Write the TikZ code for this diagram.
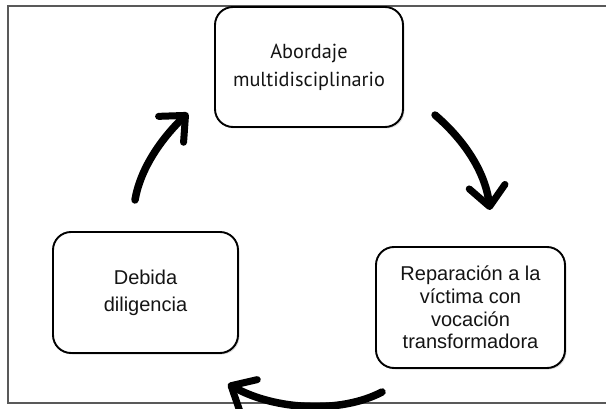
\documentclass[tikz,border=0pt]{standalone}
\usepackage{fontspec}
\setmainfont{Liberation Sans}
\newfontfamily\myriadlike{PT Sans}
\usetikzlibrary{arrows.meta,shadows}
\begin{document}
\begin{tikzpicture}[x=1pt,y=-1pt,
  box/.style={draw=black, line width=1.9pt, rounded corners=18pt, fill=white,
    align=center, inner sep=0pt, text=black!92,
    drop shadow={shadow xshift=1.5pt, shadow yshift=-1.5pt, opacity=0.3}},
  bigarrow/.style={line width=7.5pt, line cap=round,
    -{Straight Barb[length=20pt,width=36pt,line width=7pt,round]}}
]
\useasboundingbox (0,0) rectangle (606,409);
\draw[black!65, line width=1.3pt] (8,6) rectangle (640,403);

\node[box, minimum width=188pt, minimum height=120pt,
  font=\myriadlike\fontsize{20.3}{28}\selectfont] (top) at (309,67)
  {Abordaje\\multidisciplinario};
\node[box, minimum width=189pt, minimum height=121pt,
  font=\fontsize{20}{22.7}\selectfont] (right) at (470.5,307.5)
  {Reparación a la\\víctima con\\vocación\\transformadora};
\node[box, minimum width=185pt, minimum height=121pt,
  font=\fontsize{20}{27}\selectfont] (left) at (145.5,292.5)
  {Debida\\diligencia};

\coordinate (a1s) at (435,115);
\coordinate (a1e) at (490,210);
\coordinate (a2s) at (382,392);
\coordinate (a2e) at (228,384);
\coordinate (a3s) at (135,200);
\coordinate (a3e) at (188,113);

\draw[bigarrow] (a1s) .. controls (462,138) and (485,170) .. (a1e);
\draw[bigarrow] (a2s) .. controls (340,414) and (275,410) .. (a2e);
\draw[bigarrow] (a3s) .. controls (140,170) and (160,140) .. (a3e);
\end{tikzpicture}
\end{document}
